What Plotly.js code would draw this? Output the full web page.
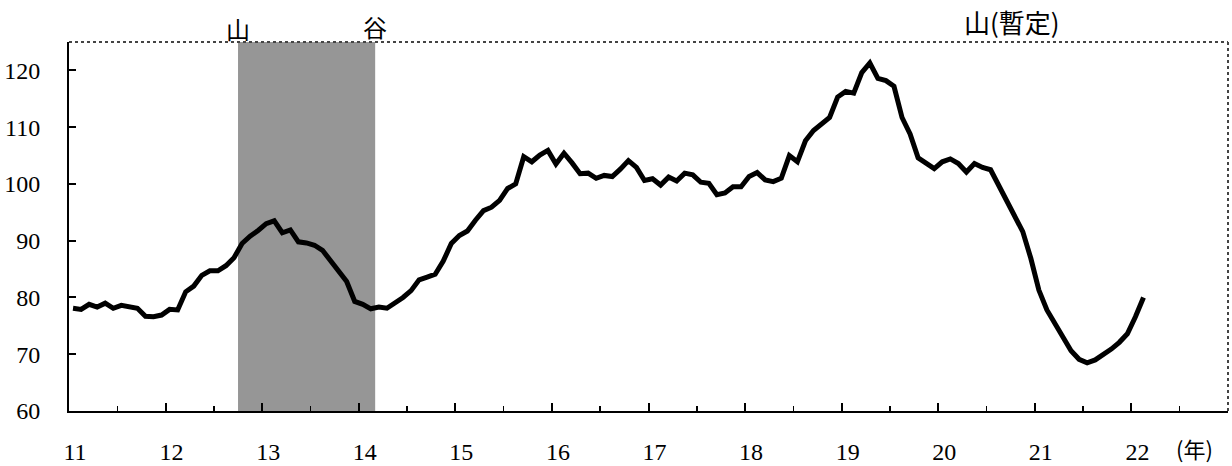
<!DOCTYPE html>
<html>
<head>
<meta charset="utf-8">
<script src="https://cdn.plot.ly/plotly-3.0.1.min.js"></script>
<style>
  html, body { margin: 0; padding: 0; background: #fff; }
  #chart { width: 1232px; height: 466px; }
</style>
</head>
<body>
<div id="chart"></div>
<script>
// Monthly index, starting January of year 11, ending February of year 22
const startYear = 11;
const monthsPerYear = 12;
const indexValues = [
  78.1, 77.9, 78.8, 78.3, 79.0, 78.1, 78.6, 78.3, 78.1, 76.7, 76.6, 76.9,
  77.9, 77.8, 81.0, 82.0, 83.9, 84.7, 84.7, 85.6, 87.0, 89.5, 90.8, 91.8,
  93.0, 93.5, 91.4, 91.9, 89.8, 89.6, 89.2, 88.3, 86.4, 84.4, 82.8, 79.3,
  78.8, 78.0, 78.3, 78.1, 79.0, 80.0, 81.2, 83.1, 83.6, 84.1, 86.4, 89.5,
  90.9, 91.7, 93.6, 95.3, 95.9, 97.1, 99.2, 100.0, 104.8, 103.9, 105.1, 105.9,
  103.5, 105.4, 103.7, 101.8, 101.9, 101.0, 101.5, 101.3, 102.6, 104.1, 102.9, 100.6,
  100.9, 99.8, 101.2, 100.5, 101.9, 101.6, 100.3, 100.1, 98.1, 98.4, 99.5, 99.5,
  101.3, 102.0, 100.7, 100.4, 101.0, 105.0, 103.9, 107.6, 109.4, 110.6, 111.7, 115.3,
  116.3, 116.0, 119.6, 121.3, 118.6, 118.2, 117.2, 111.7, 108.8, 104.6, 103.7, 102.7,
  103.9, 104.4, 103.6, 102.1, 103.6, 102.9, 102.5, 99.8, 97.4, 94.6, 91.6, 86.9,
  81.3, 77.8, 75.3, 72.8, 70.6, 69.1, 68.5, 69.0, 69.9, 70.9, 72.1, 73.6,
  76.6, 80.0
];

// Axis ticks / labels
const yearTicks = [11, 12, 13, 14, 15, 16, 17, 18, 19, 20, 21, 22];
const yearLabels = ['11', '12', '13', '14', '15', '16', '17', '18', '19', '20', '21', '22'];
const yTicks = [60, 70, 80, 90, 100, 110, 120];
const yLabels = ['60', '70', '80', '90', '100', '110', '120'];

// Recession (peak → trough) and turning-point labels
const recessionStart = 12.75;
const recessionEnd = 14.17;
const peakLabel = '山';
const troughLabel = '谷';
const provisionalPeakLabel = '山(暫定)';
const provisionalPeakPos = 20.25;
const unitLabel = '(年)';
const unitLabelPos = 22.65;

const xRange = [11, 23];
const yRange = [60, 125];

const xVals = indexValues.map((v, i) => startYear + (i + 0.5) / monthsPerYear);

const numFont = { family: '"Liberation Serif", "DejaVu Serif", serif', size: 24, color: '#000' };
const jpFont = { family: '"Noto Sans CJK JP", sans-serif', size: 24, color: '#000' };

const trace = {
  type: 'scatter',
  mode: 'lines',
  x: xVals,
  y: indexValues,
  line: { color: '#000', width: 5, shape: 'linear' },
  hoverinfo: 'skip',
  showlegend: false
};

const layout = {
  width: 1232,
  height: 466,
  margin: { l: 69, r: 4, t: 42, b: 55, pad: 0 },
  paper_bgcolor: '#fff',
  plot_bgcolor: '#fff',
  showlegend: false,
  xaxis: {
    range: xRange,
    tickmode: 'array',
    tickvals: yearTicks,
    ticktext: yearLabels,
    ticks: 'inside',
    ticklen: 8,
    tickwidth: 2,
    tickcolor: '#000',
    minor: { dtick: 0.5, ticks: 'inside', ticklen: 5, tickwidth: 1.5, tickcolor: '#000' },
    showgrid: false,
    zeroline: false,
    showline: true,
    linecolor: '#000',
    linewidth: 2,
    tickfont: numFont,
    ticklabelstandoff: 18,
    ticklabelshift: 6,
    fixedrange: true
  },
  yaxis: {
    range: yRange,
    tickmode: 'array',
    tickvals: yTicks,
    ticktext: yLabels,
    ticks: 'inside',
    ticklen: 7,
    tickwidth: 2,
    tickcolor: '#000',
    showgrid: false,
    zeroline: false,
    showline: true,
    linecolor: '#000',
    linewidth: 2,
    tickfont: numFont,
    ticklabelstandoff: 22,
    fixedrange: true
  },
  shapes: [
    {
      type: 'rect', xref: 'x', yref: 'paper',
      x0: recessionStart, x1: recessionEnd, y0: 0, y1: 1,
      fillcolor: '#969696', line: { width: 0 }, layer: 'below'
    },
    {
      type: 'line', xref: 'paper', yref: 'paper',
      x0: 0, x1: 1, y0: 1, y1: 1,
      line: { color: '#444', width: 2, dash: 'dot' }
    },
    {
      type: 'line', xref: 'paper', yref: 'paper',
      x0: 1, x1: 1, y0: 0, y1: 1,
      line: { color: '#444', width: 2, dash: 'dot' }
    }
  ],
  annotations: [
    { text: peakLabel, x: recessionStart, y: 1, xref: 'x', yref: 'paper',
      xanchor: 'center', yanchor: 'bottom', showarrow: false, font: jpFont, yshift: -6 },
    { text: troughLabel, x: recessionEnd, y: 1, xref: 'x', yref: 'paper',
      xanchor: 'center', yanchor: 'bottom', showarrow: false, font: jpFont, yshift: -4 },
    { text: provisionalPeakLabel, x: provisionalPeakPos, y: 1, xref: 'x', yref: 'paper',
      xanchor: 'left', yanchor: 'bottom', showarrow: false,
      font: { family: jpFont.family, size: 26, color: '#000' }, yshift: 0 },
    { text: unitLabel, x: unitLabelPos, y: -0.1, xref: 'x', yref: 'paper',
      xanchor: 'center', yanchor: 'middle', showarrow: false,
      font: { family: jpFont.family, size: 22, color: '#000' } }
  ]
};

Plotly.newPlot('chart', [trace], layout, { staticPlot: true, displayModeBar: false });
</script>
</body>
</html>
